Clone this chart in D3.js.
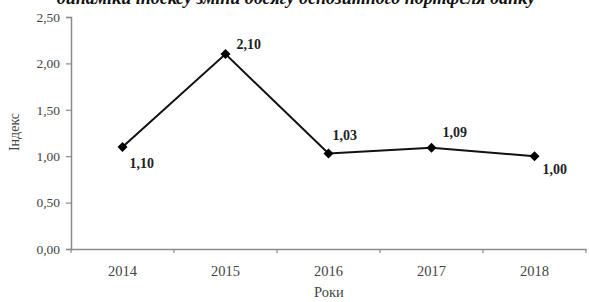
<!DOCTYPE html>
<html>
<head>
<meta charset="utf-8">
<script src="https://cdn.jsdelivr.net/npm/d3@7"></script>
<style>
  body { margin: 0; background: #fff; }
  svg { display: block; }
  text { font-family: "Liberation Serif", "Times New Roman", serif; }
</style>
</head>
<body>
<svg></svg>
<script>
let years = ['2014', '2015', '2016', '2017', '2018'];
let values = [1.10, 2.10, 1.03, 1.09, 1.00];
let labels = ['1,10', '2,10', '1,03', '1,09', '1,00'];
let yTicks = [0, 0.5, 1, 1.5, 2, 2.5];
let title = 'динаміки індексу зміни обсягу депозитного портфеля банку';

let w = 589;
let h = 302;
let svg = d3.select('svg').attr('width', w).attr('height', h);

let fmt = d => d.toFixed(2).replace('.', ',');

let x = d3.scaleBand().domain(years).range([71, 586]);
let y = d3.scaleLinear().domain([0, 2.5]).range([249, 17]);

// title, cut off by the top edge as in the scan
svg.append('text')
    .attr('x', 296)
    .attr('y', 4)
    .attr('text-anchor', 'middle')
    .style('font-weight', 'bold')
    .style('font-style', 'italic')
    .style('font-size', '18px')
    .attr('fill', '#111')
    .text(title);

let yAxis = svg.append('g')
    .attr('transform', 'translate(71,0)')
    .call(d3.axisLeft(y).tickValues(yTicks).tickFormat(fmt).tickSize(5).tickPadding(6));

let xAxis = svg.append('g')
    .attr('transform', 'translate(0,249)')
    .call(d3.axisBottom(x).tickSize(0).tickPadding(17));

// category ticks on band edges
xAxis.selectAll('line.edge')
    .data(years.concat(['end']))
    .enter()
    .append('line')
    .attr('class', 'edge')
    .attr('x1', (d, i) => 71 + i * x.bandwidth())
    .attr('x2', (d, i) => 71 + i * x.bandwidth())
    .attr('y1', 0)
    .attr('y2', 4);

[yAxis, xAxis].forEach(a => {
    a.select('.domain').attr('stroke', '#8a8a8a').attr('stroke-width', 1.5);
    a.selectAll('line').attr('stroke', '#8a8a8a').attr('stroke-width', 1.2);
    a.selectAll('text')
        .attr('fill', '#444')
        .style('font-family', '"Liberation Serif", "Times New Roman", serif')
        .style('font-size', '13.5px');
});
xAxis.selectAll('.tick text').style('font-size', '14.5px');

let line = d3.line()
    .x((d, i) => x(years[i]) + x.bandwidth() / 2)
    .y(d => y(d));

svg.append('path')
    .datum(values)
    .attr('d', line)
    .attr('fill', 'none')
    .attr('stroke', '#111')
    .attr('stroke-width', 2);

svg.selectAll('path.pt')
    .data(values)
    .enter()
    .append('path')
    .attr('class', 'pt')
    .attr('d', 'M0,-5L5,0L0,5L-5,0Z')
    .attr('transform', (d, i) => 'translate(' + (x(years[i]) + x.bandwidth() / 2) + ',' + y(d) + ')')
    .attr('fill', '#000');

let offs = [[7, 21], [11, -5], [4, -13], [11, -11], [8, 18]];
svg.selectAll('text.lbl')
    .data(values)
    .enter()
    .append('text')
    .attr('class', 'lbl')
    .attr('x', (d, i) => x(years[i]) + x.bandwidth() / 2 + offs[i][0])
    .attr('y', (d, i) => y(d) + offs[i][1])
    .style('font-weight', 'bold')
    .style('font-size', '14px')
    .attr('fill', '#222')
    .text((d, i) => labels[i]);

svg.append('text')
    .attr('x', 329)
    .attr('y', 297)
    .attr('text-anchor', 'middle')
    .attr('fill', '#444')
    .style('font-size', '14.5px')
    .text('Роки');

svg.append('text')
    .attr('transform', 'translate(19,132) rotate(-90)')
    .attr('text-anchor', 'middle')
    .attr('fill', '#444')
    .style('font-size', '14px')
    .text('Індекс');
</script>
</body>
</html>
